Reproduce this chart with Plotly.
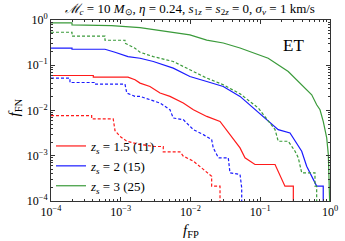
import plotly.graph_objects as go

# ---- data ----
g_s_x = [1e-4, 2e-4, 2e-4, 7.4e-4, 1.89e-3, 3.27e-3, 5.66e-3, 9.8e-3, 0.0171, 0.0295, 0.0513, 0.084, 0.130, 0.252, 0.393, 0.547, 0.644, 0.719, 0.80, 0.897, 0.946, 0.977, 1.0]
g_s_y = [0.86, 0.86, 0.78, 0.75, 0.68, 0.60, 0.54, 0.47, 0.36, 0.31, 0.24, 0.185, 0.143, 0.0726, 0.037, 0.0223, 0.0134, 0.0104, 0.00575, 0.00248, 0.00106, 0.000326, 5e-5]

g_d_x = [1e-4, 2e-4, 2e-4, 5.94e-4, 5.94e-4, 1.15e-3, 1.15e-3, 1.6e-3, 1.89e-3, 2.93e-3, 5.66e-3, 9.8e-3, 0.0171, 0.0295, 0.0513, 0.0937, 0.130, 0.163, 0.181, 0.252, 0.315, 0.351, 0.393, 0.609, 0.609, 0.644, 0.644]
g_d_y = [0.536, 0.536, 0.438, 0.438, 0.357, 0.357, 0.307, 0.238, 0.194, 0.155, 0.121, 0.079, 0.052, 0.037, 0.0234, 0.01135, 0.00575, 0.00378, 0.00209, 0.00209, 0.00126, 0.0009, 0.00042, 0.00042, 0.000213, 0.000213, 5e-5]

b_s_x = [1e-4, 2e-4, 2e-4, 5.94e-4, 8.27e-4, 1.27e-3, 1.89e-3, 2.93e-3, 5.66e-3, 9.8e-3, 0.0171, 0.0295, 0.0513, 0.084, 0.130, 0.181, 0.267, 0.315, 0.393, 0.463, 0.644, 0.80, 0.80]
b_s_y = [0.238, 0.238, 0.226, 0.226, 0.194, 0.155, 0.143, 0.121, 0.0863, 0.0564, 0.0438, 0.034, 0.0205, 0.0104, 0.00575, 0.00378, 0.00319, 0.00209, 0.00126, 0.000587, 0.000213, 0.000213, 5e-5]

b_d_x = [1e-4, 1.87e-4, 1.87e-4, 4.28e-4, 4.28e-4, 1.15e-3, 1.22e-3, 1.6e-3, 1.89e-3, 2.62e-3, 3.66e-3, 5.08e-3, 5.66e-3, 7.88e-3, 0.011, 0.0153, 0.0201, 0.0212, 0.0251, 0.0348, 0.0368, 0.0513, 0.0542, 0.0542]
b_d_y = [0.052, 0.052, 0.0416, 0.0416, 0.0384, 0.0384, 0.0243, 0.0205, 0.0205, 0.0173, 0.0146, 0.0104, 0.00684, 0.00627, 0.00378, 0.00293, 0.00228, 0.00149, 0.0009, 0.0009, 0.00042, 0.000385, 0.000196, 5e-5]

r_s_x = [1e-4, 4.04e-4, 4.04e-4, 1.27e-3, 1.6e-3, 1.89e-3, 2.62e-3, 3.66e-3, 5.08e-3, 7.88e-3, 0.011, 0.0171, 0.0265, 0.0368, 0.0513, 0.0604, 0.084, 0.163, 0.226, 0.298, 0.298]
r_s_y = [0.0593, 0.0593, 0.0547, 0.0547, 0.0477, 0.0403, 0.034, 0.0243, 0.0205, 0.0146, 0.0104, 0.0074, 0.00575, 0.00293, 0.00149, 0.0009, 0.00064, 0.00064, 0.000213, 0.000213, 5e-5]

r_d_x = [1e-4, 3.83e-4, 3.83e-4, 7.8e-4, 8.27e-4, 9.75e-4, 1.22e-3, 1.89e-3, 3.1e-3, 4.07e-3, 4.07e-3, 7.06e-3, 7.88e-3, 0.011, 0.0153, 0.0201, 0.0201, 0.0265, 0.0265]
r_d_y = [0.00768, 0.00768, 0.0065, 0.0065, 0.00359, 0.00269, 0.00209, 0.00177, 0.0016, 0.0016, 0.00122, 0.00122, 0.00098, 0.00076, 0.0005, 0.00035, 0.000213, 0.000213, 5e-5]

legend_labels = ["<i>z<sub>s</sub></i> = 1.5 (11)", "<i>z<sub>s</sub></i> = 2 (15)", "<i>z<sub>s</sub></i> = 3 (25)"]
tick_vals = [1e-4, 1e-3, 1e-2, 1e-1, 1]
tick_text = ["10<sup>−4</sup>", "10<sup>−3</sup>", "10<sup>−2</sup>", "10<sup>−1</sup>", "10<sup>0</sup>"]

RED, BLUE, GREEN = "#ff1a1a", "#1a1aff", "#3a9a3a"
W = 1.2
DASH = "3px,2px"

fig = go.Figure()
fig.add_trace(go.Scatter(x=r_s_x, y=r_s_y, mode="lines", line=dict(color=RED, width=W), name=legend_labels[0]))
fig.add_trace(go.Scatter(x=b_s_x, y=b_s_y, mode="lines", line=dict(color=BLUE, width=W), name=legend_labels[1]))
fig.add_trace(go.Scatter(x=g_s_x, y=g_s_y, mode="lines", line=dict(color=GREEN, width=W), name=legend_labels[2]))
fig.add_trace(go.Scatter(x=r_d_x, y=r_d_y, mode="lines", line=dict(color=RED, width=W, dash=DASH), showlegend=False))
fig.add_trace(go.Scatter(x=b_d_x, y=b_d_y, mode="lines", line=dict(color=BLUE, width=W, dash=DASH), showlegend=False))
fig.add_trace(go.Scatter(x=g_d_x, y=g_d_y, mode="lines", line=dict(color=GREEN, width=W, dash=DASH), showlegend=False))

minor_vals = [m * 10 ** e for e in range(-4, 0) for m in range(2, 10)]
FONT = "Liberation Serif"
axis_common = dict(
    type="log", showgrid=False, zeroline=False, showline=True, linecolor="#333", linewidth=1,
    mirror="allticks", ticks="inside", ticklen=4, tickcolor="#333",
    tickvals=tick_vals, ticktext=tick_text, automargin=False,
    tickfont=dict(family=FONT, size=12, color="black"),
    minor=dict(ticks="inside", ticklen=2, tickcolor="#333", tickvals=minor_vals),
)
fig.update_xaxes(range=[-4, 0], **axis_common)
fig.update_yaxes(range=[-4, 0], **axis_common)

fig.update_layout(
    width=345, height=241,
    margin=dict(l=51, r=15, t=20, b=40),
    paper_bgcolor="white", plot_bgcolor="white",
    title=dict(text="<i>ℳ<sub>c</sub></i> = 10 <i>M</i><sub>⊙</sub>, <i>η</i> = 0.24, <i>s</i><sub>1<i>z</i></sub> = <i>s</i><sub>2<i>z</i></sub> = 0, <i>σ<sub>v</sub></i> = 1 km/s",
               font=dict(family=FONT, size=13, color="black"), x=0.55, xanchor="center", y=0.985, yanchor="top"),
    legend=dict(x=0.0, y=0.0, xanchor="left", yanchor="bottom", bgcolor="rgba(0,0,0,0)",
                font=dict(family=FONT, size=13, color="black"), tracegroupgap=0, itemwidth=30),
    annotations=[
        dict(text="ET", x=0.87, y=0.857, xref="paper", yref="paper", xanchor="center", yanchor="middle",
             showarrow=False, font=dict(family=FONT, size=17, color="black")),
        dict(text="<i>f</i><sub>FP</sub>", x=0.5, y=-0.165, xref="paper", yref="paper", xanchor="center",
             yanchor="middle", showarrow=False, font=dict(family=FONT, size=15, color="black")),
        dict(text="<i>f</i><sub>FN</sub>", x=-0.13, y=0.515, xref="paper", yref="paper", xanchor="center",
             yanchor="middle", showarrow=False, textangle=-90, font=dict(family=FONT, size=15, color="black")),
    ],
    showlegend=True,
)

fig.write_html("out.html", config={"displayModeBar": False},
               post_script="document.body.style.margin='0';")
